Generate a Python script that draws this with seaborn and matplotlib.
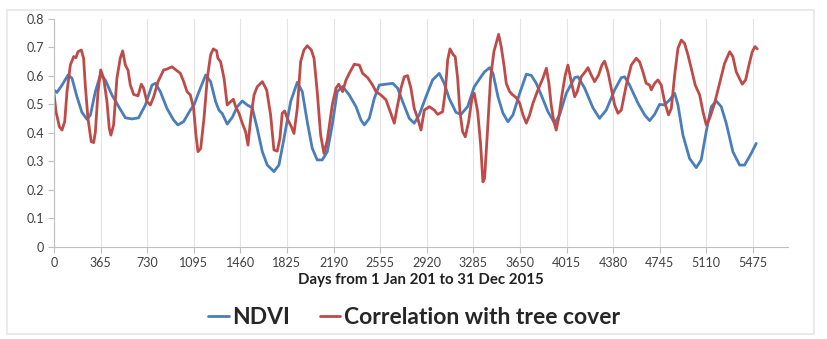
import numpy as np
import pandas as pd
import matplotlib
matplotlib.use("Agg")
import matplotlib.pyplot as plt
import seaborn as sns

# ------------------------------------------------------------------
# values (day, value)
# ------------------------------------------------------------------
ndvi_days = [0, 23, 63, 110, 141, 180, 219, 258, 285, 324, 363, 402, 454, 507,
             559, 611, 663, 716, 768, 794, 833, 885, 937, 971, 1016, 1068,
             1097, 1136, 1188, 1227, 1266, 1292, 1318, 1357, 1397, 1436, 1475,
             1514, 1553, 1592, 1632, 1671, 1723, 1762, 1802, 1854, 1906, 1945,
             1984, 2023, 2062, 2101, 2141, 2180, 2219, 2261, 2313, 2366, 2405,
             2431, 2470, 2509, 2548, 2600, 2653, 2692, 2731, 2783, 2822, 2861,
             2914, 2966, 3018, 3057, 3096, 3149, 3188, 3240, 3292, 3345, 3374,
             3413, 3439, 3478, 3517, 3556, 3595, 3648, 3700, 3739, 3778, 3817,
             3870, 3922, 3961, 4013, 4079, 4105, 4157, 4222, 4274, 4326, 4392,
             4444, 4470, 4509, 4575, 4627, 4666, 4705, 4744, 4783, 4823, 4862,
             4888, 4927, 4979, 5031, 5070, 5109, 5149, 5188, 5227, 5266, 5318,
             5371, 5410, 5462, 5501]
ndvi_vals = [0.551, 0.542, 0.568, 0.603, 0.592, 0.527, 0.472, 0.448, 0.462,
             0.545, 0.603, 0.586, 0.533, 0.492, 0.453, 0.449, 0.453, 0.498,
             0.568, 0.574, 0.545, 0.486, 0.445, 0.428, 0.44, 0.48, 0.498,
             0.545, 0.603, 0.58, 0.51, 0.48, 0.468, 0.431, 0.455, 0.492, 0.512,
             0.498, 0.488, 0.416, 0.334, 0.287, 0.264, 0.287, 0.381, 0.51,
             0.578, 0.545, 0.439, 0.346, 0.305, 0.305, 0.334, 0.428, 0.545,
             0.563, 0.533, 0.492, 0.445, 0.428, 0.451, 0.521, 0.568, 0.571,
             0.574, 0.557, 0.51, 0.451, 0.434, 0.463, 0.527, 0.586, 0.609,
             0.574, 0.521, 0.472, 0.465, 0.492, 0.562, 0.597, 0.615, 0.629,
             0.609, 0.527, 0.469, 0.439, 0.463, 0.539, 0.606, 0.602, 0.574,
             0.533, 0.474, 0.434, 0.463, 0.539, 0.594, 0.597, 0.557, 0.488,
             0.451, 0.48, 0.551, 0.594, 0.597, 0.568, 0.504, 0.463, 0.443,
             0.465, 0.50, 0.498, 0.516, 0.539, 0.498, 0.392, 0.31, 0.278,
             0.305, 0.404, 0.492, 0.512, 0.492, 0.434, 0.334, 0.287, 0.287,
             0.328, 0.363]

corr_days = [0, 16, 42, 63, 84, 102, 128, 154, 172, 188, 214, 232, 245, 266,
             292, 311, 324, 345, 366, 389, 415, 433, 446, 467, 493, 519, 538,
             559, 580, 598, 624, 658, 684, 702, 728, 755, 781, 815, 859, 885,
             924, 956, 990, 1016, 1042, 1068, 1094, 1112, 1128, 1149, 1175,
             1201, 1227, 1248, 1274, 1284, 1305, 1332, 1357, 1384, 1405, 1423,
             1449, 1475, 1501, 1520, 1541, 1567, 1592, 1632, 1666, 1697, 1723,
             1749, 1770, 1788, 1807, 1833, 1859, 1880, 1906, 1932, 1958, 1984,
             2016, 2037, 2062, 2089, 2115, 2141, 2180, 2209, 2230, 2261, 2287,
             2313, 2352, 2392, 2418, 2457, 2496, 2522, 2561, 2601, 2634, 2666,
             2687, 2718, 2744, 2770, 2796, 2822, 2849, 2875, 2901, 2940, 2979,
             3005, 3044, 3065, 3084, 3102, 3128, 3143, 3162, 3180, 3201, 3222,
             3248, 3274, 3292, 3319, 3342, 3360, 3373, 3394, 3420, 3446, 3464,
             3483, 3504, 3525, 3543, 3569, 3595, 3621, 3648, 3674, 3700, 3726,
             3752, 3791, 3830, 3857, 3877, 3895, 3916, 3934, 3953, 3979, 4005,
             4026, 4052, 4079, 4099, 4130, 4162, 4183, 4209, 4235, 4266, 4292,
             4313, 4339, 4365, 4392, 4418, 4444, 4483, 4522, 4561, 4587, 4613,
             4639, 4666, 4679, 4705, 4731, 4757, 4783, 4814, 4836, 4862, 4888,
             4914, 4940, 4966, 4992, 5023, 5058, 5084, 5110, 5136, 5175, 5214,
             5253, 5293, 5318, 5344, 5363, 5392, 5418, 5444, 5470, 5491, 5509]
corr_vals = [0.539, 0.474, 0.422, 0.41, 0.44, 0.545, 0.638, 0.668, 0.664,
             0.685, 0.691, 0.662, 0.568, 0.451, 0.369, 0.366, 0.403, 0.545,
             0.621, 0.592, 0.51, 0.416, 0.392, 0.428, 0.592, 0.662, 0.688,
             0.638, 0.62, 0.568, 0.535, 0.53, 0.571, 0.557, 0.51, 0.498, 0.527,
             0.58, 0.621, 0.624, 0.632, 0.621, 0.609, 0.58, 0.545, 0.533,
             0.486, 0.392, 0.334, 0.345, 0.451, 0.592, 0.674, 0.695, 0.688,
             0.662, 0.65, 0.592, 0.498, 0.51, 0.518, 0.492, 0.469, 0.434,
             0.404, 0.357, 0.451, 0.533, 0.562, 0.58, 0.551, 0.463, 0.34,
             0.336, 0.381, 0.469, 0.477, 0.445, 0.422, 0.398, 0.486, 0.65,
             0.691, 0.706, 0.691, 0.662, 0.545, 0.392, 0.328, 0.375, 0.498,
             0.557, 0.571, 0.545, 0.585, 0.609, 0.641, 0.638, 0.609, 0.594,
             0.568, 0.545, 0.533, 0.516, 0.474, 0.434, 0.486, 0.557, 0.597,
             0.601, 0.557, 0.486, 0.451, 0.41, 0.48, 0.492, 0.48, 0.465, 0.474,
             0.545, 0.656, 0.695, 0.674, 0.668, 0.592, 0.474, 0.404, 0.386,
             0.439, 0.521, 0.539, 0.474, 0.36, 0.228, 0.24, 0.392, 0.592,
             0.685, 0.714, 0.746, 0.701, 0.638, 0.574, 0.545, 0.533, 0.524,
             0.504, 0.463, 0.434, 0.463, 0.504, 0.551, 0.592, 0.627, 0.574,
             0.498, 0.439, 0.41, 0.451, 0.533, 0.603, 0.638, 0.58, 0.527,
             0.545, 0.597, 0.615, 0.629, 0.603, 0.58, 0.603, 0.638, 0.652,
             0.615, 0.557, 0.498, 0.469, 0.48, 0.568, 0.638, 0.662, 0.65,
             0.615, 0.574, 0.568, 0.551, 0.574, 0.586, 0.568, 0.51, 0.463,
             0.486, 0.603, 0.697, 0.726, 0.714, 0.674, 0.627, 0.568, 0.533,
             0.474, 0.428, 0.451, 0.504, 0.574, 0.644, 0.685, 0.668, 0.615,
             0.597, 0.571, 0.586, 0.638, 0.685, 0.703, 0.695]

series_names = ["NDVI", "Correlation with tree cover"]
series_colors = ["#4A7EBB", "#BE4B48"]
x_ticks = list(range(0, 5476, 365))
y_ticks = [0, 0.1, 0.2, 0.3, 0.4, 0.5, 0.6, 0.7, 0.8]
y_labels = ["0", "0.1", "0.2", "0.3", "0.4", "0.5", "0.6", "0.7", "0.8"]

df = pd.concat([
    pd.DataFrame({"day": ndvi_days, "value": ndvi_vals, "series": series_names[0]}),
    pd.DataFrame({"day": corr_days, "value": corr_vals, "series": series_names[1]}),
])

sns.set_style("white")
plt.rcParams["font.family"] = ["Lato", "DejaVu Sans"]

fig = plt.figure(figsize=(8.28, 3.39), dpi=100)
ax = fig.add_axes([0.0652, 0.272, 0.8865, 0.672])

sns.lineplot(data=df, x="day", y="value", hue="series", hue_order=series_names,
             palette=series_colors, linewidth=2.0, ax=ax, legend=False,
             estimator=None, sort=False)

ax.set_xlim(0, 5750)
ax.set_ylim(0, 0.8)
ax.set_xticks(x_ticks)
ax.set_xticklabels([str(t) for t in x_ticks], fontsize=9, color="#404040")
ax.set_yticks(y_ticks)
ax.set_yticklabels(y_labels, fontsize=9, color="#404040")
ax.grid(axis="x", color="#E3E3E3", linewidth=0.8)
ax.grid(axis="y", visible=False)
for s in ["top", "right"]:
    ax.spines[s].set_visible(False)
ax.spines["left"].set_color("#BFBFBF")
ax.spines["bottom"].set_color("#BFBFBF")
ax.tick_params(axis="both", length=4, color="#BFBFBF", width=0.8,
               direction="out", pad=3)
ax.tick_params(axis="x", bottom=True)
ax.tick_params(axis="y", left=True)
ax.set_xlabel("Days from 1 Jan 201 to 31 Dec 2015", fontsize=10.8,
              fontweight="bold", color="#202020", labelpad=3)
ax.set_ylabel("")

# faint frame round the whole chart, like the exported chart box
frame = plt.Rectangle((0.008, 0.015), 0.975, 0.955, transform=fig.transFigure,
                      fill=False, edgecolor="#E6E6E6", linewidth=1.2)
fig.add_artist(frame)

handles = [plt.Line2D([], [], color=c, linewidth=2.0) for c in series_colors]
fig.legend(handles, series_names, loc="center", bbox_to_anchor=(0.5, 0.062),
           ncol=2, frameon=False, handlelength=0.9,
           handletextpad=0.15, columnspacing=1.3,
           prop={"weight": "bold", "size": 16.5})

fig.savefig("out.png", dpi=100)
